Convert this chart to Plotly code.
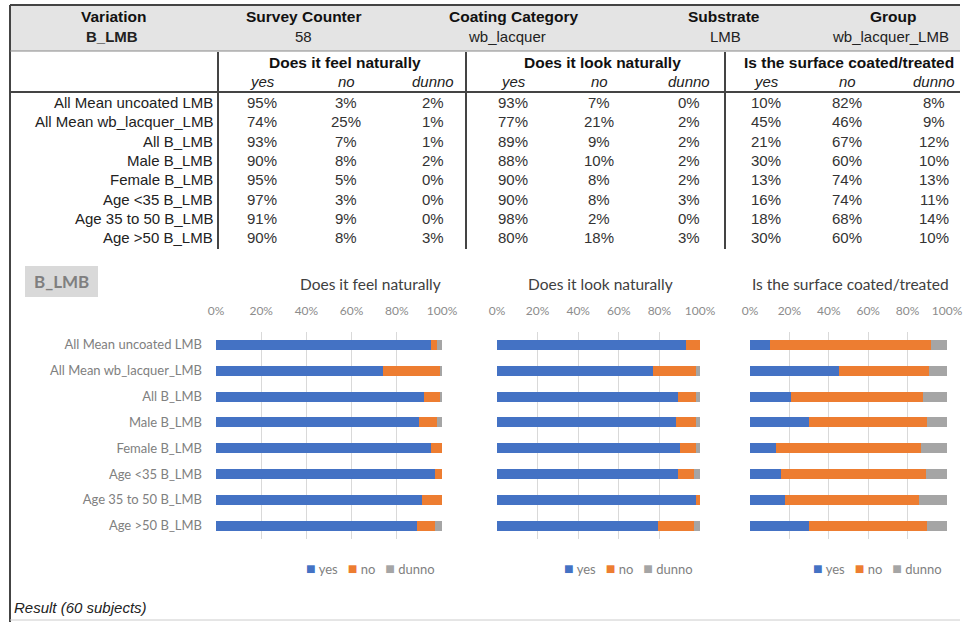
import plotly.graph_objects as go

# ---------------- data ----------------
categories = ["All Mean uncoated LMB", "All Mean wb_lacquer_LMB", "All B_LMB", "Male B_LMB",
              "Female B_LMB", "Age <35 B_LMB", "Age 35 to 50 B_LMB", "Age >50 B_LMB"]
answers = ["yes", "no", "dunno"]
questions = ["Does it feel naturally", "Does it look naturally", "Is the surface coated/treated"]

feel_yes = [95, 74, 93, 90, 95, 97, 91, 90]
feel_no = [3, 25, 7, 8, 5, 3, 9, 8]
feel_dunno = [2, 1, 1, 2, 0, 0, 0, 3]

look_yes = [93, 77, 89, 88, 90, 90, 98, 80]
look_no = [7, 21, 9, 10, 8, 8, 2, 18]
look_dunno = [0, 2, 2, 2, 2, 3, 0, 3]

coated_yes = [10, 45, 21, 30, 13, 16, 18, 30]
coated_no = [82, 46, 67, 60, 74, 74, 68, 60]
coated_dunno = [8, 9, 12, 10, 13, 11, 14, 10]

header_titles = ["Variation", "Survey Counter", "Coating Category", "Substrate", "Group"]
header_values = ["B_LMB", "58", "wb_lacquer", "LMB", "wb_lacquer_LMB"]
footer_text = "Result (60 subjects)"
panel_label = "B_LMB"

series_colors = ["#4472C4", "#ED7D31", "#A5A5A5"]
question_data = [
    [feel_yes, feel_no, feel_dunno],
    [look_yes, look_no, look_dunno],
    [coated_yes, coated_no, coated_dunno],
]

# ---------------- layout helpers ----------------
W, H = 965, 622
def X(px):
    return px / W
def Y(py):
    return 1 - py / H

TABLE_FONT = "Liberation Sans, Arial, sans-serif"
CHART_FONT = "Lato, Open Sans, sans-serif"

fig = go.Figure()
annotations = []
shapes = []

# ---------------- table ----------------
shapes.append(dict(type="rect", xref="paper", yref="paper", x0=X(10), x1=X(960), y0=Y(51), y1=Y(5),
                   fillcolor="#e4e4e4", line=dict(width=0), layer="below"))
line_col = "#444444"
shapes.append(dict(type="line", xref="paper", yref="paper", x0=X(10), x1=X(960), y0=Y(5), y1=Y(5),
                   line=dict(color=line_col, width=2)))
shapes.append(dict(type="line", xref="paper", yref="paper", x0=X(10), x1=X(10), y0=Y(5), y1=Y(622),
                   line=dict(color=line_col, width=2)))
shapes.append(dict(type="line", xref="paper", yref="paper", x0=X(10), x1=X(960), y0=Y(51), y1=Y(51),
                   line=dict(color="#888888", width=1)))
shapes.append(dict(type="line", xref="paper", yref="paper", x0=X(10), x1=X(960), y0=Y(92), y1=Y(92),
                   line=dict(color=line_col, width=2)))
shapes.append(dict(type="line", xref="paper", yref="paper", x0=X(10), x1=X(960), y0=Y(620), y1=Y(620),
                   line=dict(color="#cccccc", width=1)))
for vx in [218, 466, 725]:
    shapes.append(dict(type="line", xref="paper", yref="paper", x0=X(vx), x1=X(vx), y0=Y(52), y1=Y(249),
                       line=dict(color=line_col, width=2)))

head_x = [113, 303, 514, 724, 893]
val_x = [112, 303, 507, 725, 890]
for t, v, hx, vx in zip(header_titles, header_values, head_x, val_x):
    annotations.append(dict(text="<b>%s</b>" % t, x=X(hx), y=Y(17), xref="paper", yref="paper",
                            showarrow=False, xanchor="center", yanchor="middle",
                            font=dict(family=TABLE_FONT, size=15.5, color="#111")))
    txt = "<b>%s</b>" % v if t == "Variation" else v
    annotations.append(dict(text=txt, x=X(vx), y=Y(37), xref="paper", yref="paper",
                            showarrow=False, xanchor="center", yanchor="middle",
                            font=dict(family=TABLE_FONT, size=15, color="#222")))

q_head_x = [345, 602, 849]
col_x = [[262, 346, 433], [513, 599, 689], [766, 847, 934]]
for q, qx, cols in zip(questions, q_head_x, col_x):
    annotations.append(dict(text="<b>%s</b>" % q, x=X(qx), y=Y(62), xref="paper", yref="paper",
                            showarrow=False, xanchor="center", yanchor="middle",
                            font=dict(family=TABLE_FONT, size=15.5, color="#111")))
    for a, cx in zip(answers, cols):
        annotations.append(dict(text="<i>%s</i>" % a, x=X(cx), y=Y(81), xref="paper", yref="paper",
                                showarrow=False, xanchor="center", yanchor="middle",
                                font=dict(family=TABLE_FONT, size=15, color="#222")))

row_y0, row_step = 102.5, 19.3
for i, cat in enumerate(categories):
    ry = row_y0 + i * row_step
    annotations.append(dict(text=cat, x=X(215), y=Y(ry), xref="paper", yref="paper",
                            showarrow=False, xanchor="right", yanchor="middle",
                            font=dict(family=TABLE_FONT, size=15, color="#222")))
    for qd, cols in zip(question_data, col_x):
        for series, cx in zip(qd, cols):
            annotations.append(dict(text="%d%%" % series[i], x=X(cx), y=Y(ry), xref="paper", yref="paper",
                                    showarrow=False, xanchor="center", yanchor="middle",
                                    font=dict(family=TABLE_FONT, size=15, color="#333")))

# ---------------- charts ----------------
chart_x = [(216, 442), (497, 700), (750, 947)]
chart_top, chart_bot = 332, 538.6
title_x = [370, 600, 850]
legend_x = [304, 562, 811]

shapes.append(dict(type="rect", xref="paper", yref="paper", x0=X(25), x1=X(98), y0=Y(297), y1=Y(266),
                   fillcolor="#d9d9d9", line=dict(width=0), layer="below"))
annotations.append(dict(text="<b>%s</b>" % panel_label, x=X(61.5), y=Y(281.5), xref="paper", yref="paper",
                        showarrow=False, xanchor="center", yanchor="middle",
                        font=dict(family=CHART_FONT, size=17, color="#7f7f7f")))

layout_axes = {}
for k, (q, qd) in enumerate(zip(questions, question_data)):
    sfx = "" if k == 0 else str(k + 1)
    for a, series, col in zip(answers, qd, series_colors):
        fig.add_trace(go.Bar(y=categories, x=series, orientation="h", name=a,
                             marker=dict(color=col, line=dict(width=0)),
                             xaxis="x" + sfx, yaxis="y" + sfx, showlegend=False,
                             hovertemplate="%{y}: %{x}<extra>" + a + "</extra>"))
    x0, x1 = chart_x[k]
    layout_axes["xaxis" + sfx] = dict(domain=[X(x0), X(x1)], range=[0, 1], side="top",
                                      tickformat=".0%", dtick=0.2, tick0=0, showgrid=True,
                                      gridcolor="#d9d9d9", gridwidth=1, zeroline=False, ticks="",
                                      showline=False, ticklabelstandoff=14, automargin=False,
                                      tickfont=dict(family=CHART_FONT, size=12, color="#8c8c8c"),
                                      anchor="y" + sfx, fixedrange=True)
    layout_axes["yaxis" + sfx] = dict(domain=[Y(chart_bot), Y(chart_top)], autorange="reversed",
                                      type="category", showgrid=False, zeroline=False,
                                      showticklabels=(k == 0), ticks="", showline=False,
                                      ticklabelstandoff=13, automargin=False,
                                      tickfont=dict(family=CHART_FONT, size=13, color="#808080"),
                                      anchor="x" + sfx, fixedrange=True)
    annotations.append(dict(text=q, x=X(title_x[k]), y=Y(284), xref="paper", yref="paper",
                            showarrow=False, xanchor="center", yanchor="middle",
                            font=dict(family=CHART_FONT, size=15.5, color="#404040")))
    # legend (yes / no / dunno) with coloured swatches
    parts = ['<span style="color:%s;font-size:16px">■</span> %s' % (c, a) for a, c in zip(answers, series_colors)]
    annotations.append(dict(text="&nbsp;&nbsp;&nbsp;".join(parts), x=X(legend_x[k]), y=Y(567),
                            xref="paper", yref="paper", showarrow=False, xanchor="left", yanchor="middle",
                            font=dict(family=CHART_FONT, size=13, color="#7f7f7f")))

annotations.append(dict(text="<i>%s</i>" % footer_text, x=X(12), y=Y(607), xref="paper", yref="paper",
                        showarrow=False, xanchor="left", yanchor="middle",
                        font=dict(family=TABLE_FONT, size=15, color="#222")))

fig.update_layout(width=W, height=H, autosize=False,
                  margin=dict(l=0, r=0, t=0, b=0, autoexpand=False),
                  paper_bgcolor="white", plot_bgcolor="white", showlegend=False,
                  barmode="stack", barnorm="fraction", bargap=0.61,
                  annotations=annotations, shapes=shapes, **layout_axes)

fig.write_html("out.html", config={"responsive": False},
               post_script="document.body.style.margin='0';document.body.style.overflow='hidden';")
